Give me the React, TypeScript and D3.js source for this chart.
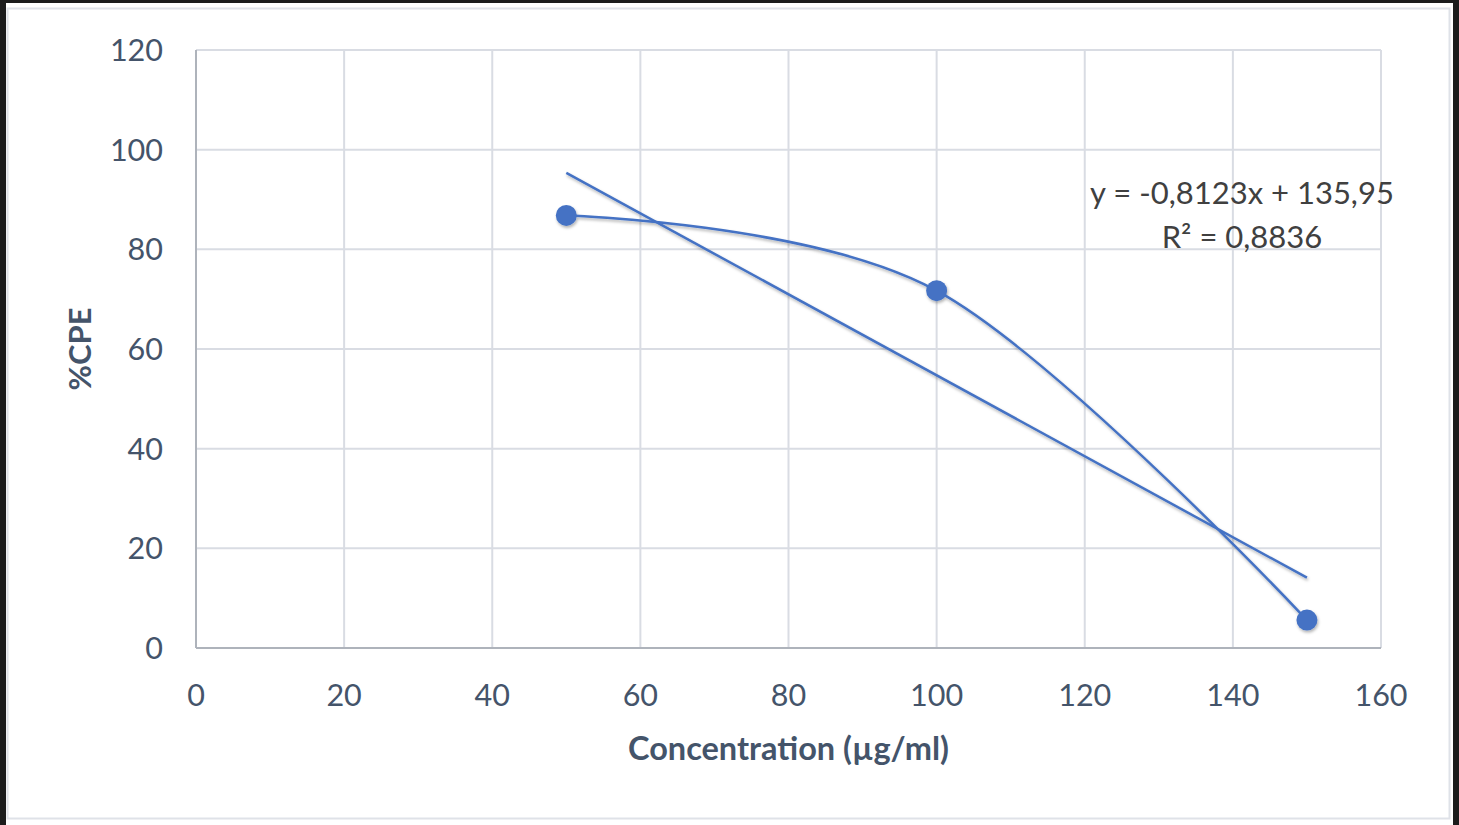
import * as d3 from "d3";

// values
const concentration = [50, 100, 150];
const cpe = [86.8, 71.7, 5.6];
const xTicks = [0, 20, 40, 60, 80, 100, 120, 140, 160];
const yTicks = [0, 20, 40, 60, 80, 100, 120];
const slope = -0.8123;
const intercept = 135.95;
const equationLabel = "y = -0,8123x + 135,95";
const r2Label = "R² = 0,8836";

const W = 1459;
const H = 825;
const margin = { top: 50, right: 78, bottom: 177, left: 196 };
const blue = "#4472c4";
const textColor = "#44546a";
const font = "Lato, 'Open Sans', sans-serif";

const App = () => {
  const x = d3.scaleLinear().domain([0, 160]).range([margin.left, W - margin.right]);
  const y = d3.scaleLinear().domain([0, 120]).range([H - margin.bottom, margin.top]);

  const pts: [number, number][] = concentration.map((c, i) => [x(c), y(cpe[i])]);
  const smooth = d3.line().curve(d3.curveCardinal.tension(0))(pts) ?? "";

  const x0 = concentration[0];
  const x1 = concentration[concentration.length - 1];
  const trend = d3.line()([
    [x(x0), y(slope * x0 + intercept)],
    [x(x1), y(slope * x1 + intercept)],
  ]) ?? "";

  return (
    <svg
      width={W}
      height={H}
      style={{ position: "absolute", left: 0, top: 0, display: "block" }}
    >
      <defs>
        <filter id="shadow" x="-50%" y="-50%" width="200%" height="200%">
          <feDropShadow dx="1" dy="2" stdDeviation="1.6" floodColor="#000" floodOpacity="0.3" />
        </filter>
      </defs>
      <rect x={0} y={0} width={W} height={H} fill="#1c1c1c" />
      <rect x={6} y={3} width={W - 12} height={H - 3} fill="#fff" />
      <rect x={7.5} y={8.5} width={1442} height={810} fill="#fff" stroke="#dfe2e8" strokeWidth={2} />

      {/* grid */}
      {yTicks.slice(1).map(t => (
        <line key={"gy" + t} x1={x(0)} x2={x(160)} y1={y(t)} y2={y(t)} stroke="#d9dce3" strokeWidth={2} />
      ))}
      {xTicks.slice(1).map(t => (
        <line key={"gx" + t} x1={x(t)} x2={x(t)} y1={y(0)} y2={y(120)} stroke="#d9dce3" strokeWidth={2} />
      ))}
      {/* axes */}
      <line x1={x(0)} x2={x(160)} y1={y(0)} y2={y(0)} stroke="#aeb3bb" strokeWidth={2} />
      <line x1={x(0)} x2={x(0)} y1={y(0)} y2={y(120)} stroke="#aeb3bb" strokeWidth={2} />

      {yTicks.map(t => (
        <text key={"ty" + t} x={163} y={y(t)} dy="0.36em" textAnchor="end"
          fontFamily={font} fontSize={30.5} fill={textColor}>{t}</text>
      ))}
      {xTicks.map(t => (
        <text key={"tx" + t} x={x(t)} y={706} textAnchor="middle"
          fontFamily={font} fontSize={30.5} fill={textColor}>{t}</text>
      ))}

      <text x={x(80)} y={760} textAnchor="middle" fontFamily={font} fontSize={32.5}
        fontWeight="bold" fill={textColor}>Concentration (µg/ml)</text>
      <text transform={`translate(91, ${y(60)}) rotate(-90)`} textAnchor="middle"
        fontFamily={font} fontSize={31} fontWeight="bold" fill={textColor}>%CPE</text>

      {/* series */}
      <g filter="url(#shadow)">
        <path d={trend} fill="none" stroke={blue} strokeWidth={2.5} />
        <path d={smooth} fill="none" stroke={blue} strokeWidth={2.5} />
        {pts.map((p, i) => (
          <circle key={i} cx={p[0]} cy={p[1]} r={10.5} fill={blue} />
        ))}
      </g>

      <text x={1242} y={204} textAnchor="middle" fontFamily={font} fontSize={31} fill="#404040">{equationLabel}</text>
      <text x={1242} y={248} textAnchor="middle" fontFamily={font} fontSize={31} fill="#404040">{r2Label}</text>
    </svg>
  );
};

export default App;
